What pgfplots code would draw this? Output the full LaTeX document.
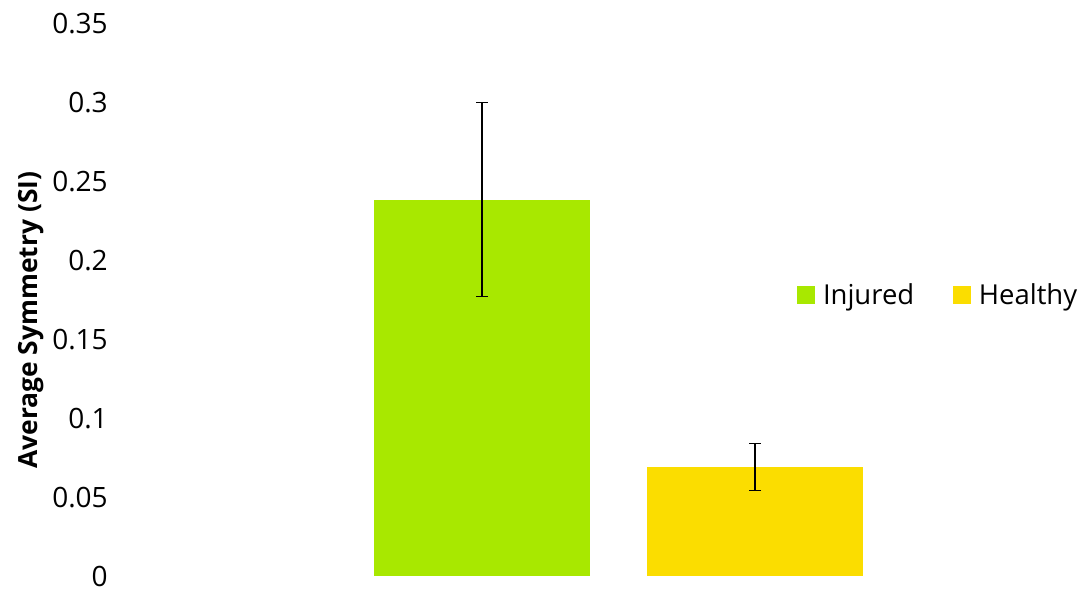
\documentclass[border=0pt]{standalone}
\usepackage{pgfplots}
\pgfplotsset{compat=1.18}
\usepackage{fontspec}
\setmainfont{Open Sans}
\definecolor{injg}{RGB}{168,232,0}
\definecolor{healy}{RGB}{251,221,0}
\begin{document}
\begin{tikzpicture}[x=1pt,y=1pt]
\begin{axis}[
  name=ax, at={(0,0)}, anchor=south west,
  scale only axis,
  width=726pt, height=414.375pt,
  xmin=120, xmax=1088,
  ymin=0, ymax=0.35,
  axis line style={draw=none},
  major tick length=0pt,
  xtick=\empty,
  ytick={0,0.05,0.1,0.15,0.2,0.25,0.3,0.35},
  yticklabels={0,0.05,0.1,0.15,0.2,0.25,0.3,0.35},
  /pgf/number format/assume math mode=true,
  yticklabel style={anchor=east, inner sep=0pt, xshift=-9pt, font=\fontsize{21}{24}\selectfont},
  ylabel={\bfseries Average Symmetry (SI)},
  ylabel style={at={(axis description cs:-0.0919,0.464)}, anchor=center, font=\fontsize{19.8}{22}\selectfont},
  ybar, bar width=216,
  bar shift=0pt,
  clip=false,
  legend columns=2,
  legend style={draw=none, fill=none, at={(axis cs:797,0.1785)}, anchor=west, inner sep=0pt, outer sep=0pt,
    font=\fontsize{20.6}{23}\selectfont,
    nodes={inner sep=0pt, anchor=west},
    /tikz/every odd column/.style={column sep=6pt},
    /tikz/every even column/.style={column sep=29pt}},
  legend image code/.code={\fill[#1] (0pt,-6.75pt) rectangle (13.5pt,6.75pt);},
  error bars/error bar style={black, line width=0.8pt},
  error bars/error mark options={black, rotate=90, mark size=4.5pt, line width=0.8pt},
]
\addplot[fill=injg, draw=none, error bars/.cd, y dir=both, y explicit]
  coordinates {(482,0.2387) +- (0,0.0613)};
\addlegendentry{Injured}
\addplot[fill=healy, draw=none, error bars/.cd, y dir=both, y explicit]
  coordinates {(755,0.0694) +- (0,0.0147)};
\addlegendentry{Healthy}
\end{axis}
\pgfresetboundingbox
\path (-90pt,-10.875pt) rectangle (726pt,432.375pt);
\end{tikzpicture}
\end{document}
